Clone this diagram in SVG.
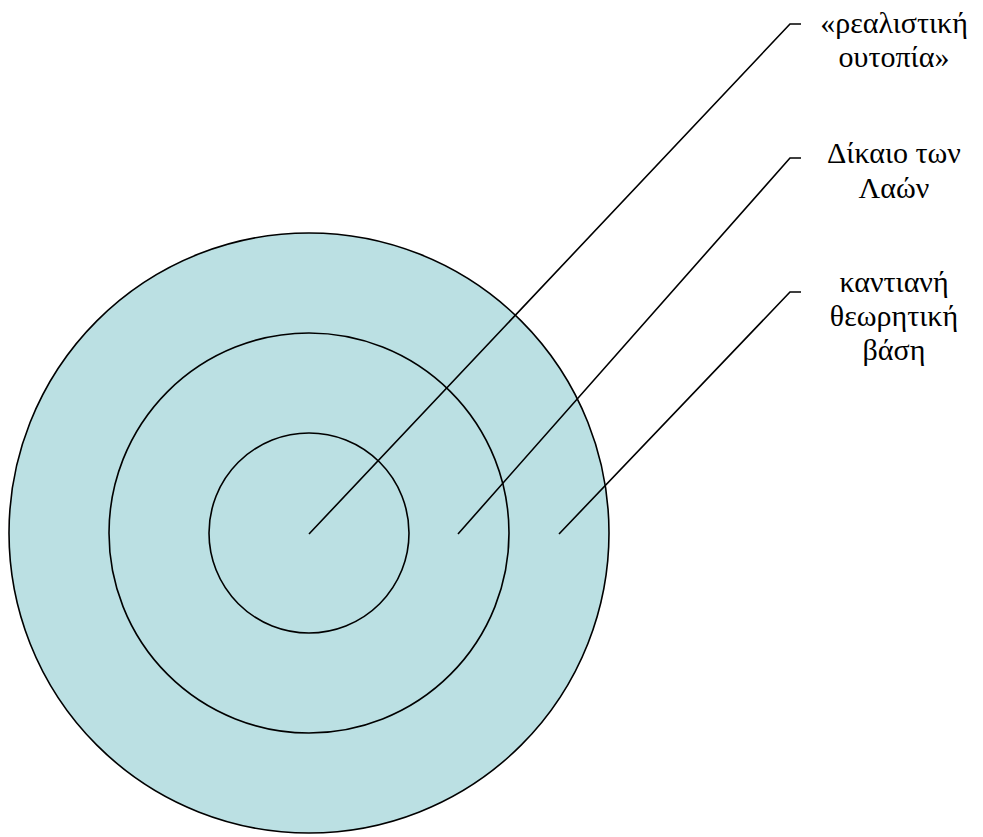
<svg xmlns="http://www.w3.org/2000/svg" width="983" height="837" viewBox="0 0 983 837">
<style>
.ring{fill:#BBE0E3;stroke:#000;stroke-width:1.6}
.lead{fill:none;stroke:#000;stroke-width:1.6}
.lbl{font-family:"Liberation Serif","Times New Roman",serif;font-size:30px;fill:#000;text-anchor:middle}
</style>
<rect width="983" height="837" fill="#fff"/>
<g id="outer"><circle class="ring" cx="309" cy="533" r="300"/></g>
<g id="middle"><circle class="ring" cx="309" cy="533" r="200"/></g>
<g id="inner"><circle class="ring" cx="309" cy="533" r="100"/></g>
<g id="connectors">
<polyline class="lead" points="309,534 790,24 801,24"/>
<polyline class="lead" points="458,534 790,158 801,158"/>
<polyline class="lead" points="559,534 790,292 801,292"/>
</g>
<g id="label1"><text class="lbl" x="894" y="33">«ρεαλιστική</text><text class="lbl" x="894" y="67">ουτοπία»</text></g>
<g id="label2"><text class="lbl" x="894" y="163">Δίκαιο των</text><text class="lbl" x="894" y="198">Λαών</text></g>
<g id="label3"><text class="lbl" x="894" y="292">καντιανή</text><text class="lbl" x="894" y="326">θεωρητική</text><text class="lbl" x="894" y="360">βάση</text></g>
</svg>
